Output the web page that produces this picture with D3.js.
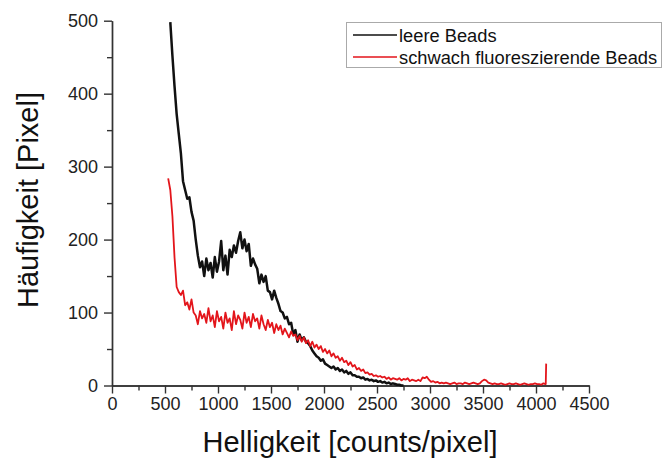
<!DOCTYPE html>
<html>
<head>
<meta charset="utf-8">
<script src="https://cdn.jsdelivr.net/npm/d3@7"></script>
<style>
body { margin: 0; background: #fff; }
text { font-family: Arial, "Liberation Sans", sans-serif; }
</style>
</head>
<body>
<script>
const w = 663;
const h = 461;

// histogram bins: first bin center and bin width (counts/pixel)
const binStart = { leer: 550, schwach: 530 };
const binWidth = 20;

const leereBeads = [
  498, 452, 410, 372, 345, 318, 280, 268, 256, 258, 238, 226, 200, 178, 162, 170,
  150, 174, 158, 168, 148, 176, 156, 170, 198, 158, 178, 152, 186, 176, 192, 182,
  198, 210, 188, 200, 184, 194, 164, 174, 166, 160, 140, 152, 142, 150, 130, 128,
  118, 130, 120, 112, 102, 100, 92, 94, 84, 86, 70, 76, 60, 70, 62, 66,
  60, 58, 54, 48, 44, 40, 38, 34, 36, 30, 28, 26, 24, 26, 22, 24,
  20, 22, 18, 20, 16, 18, 14, 14, 12, 12, 10, 11, 8, 9, 7, 8,
  6, 7, 5, 6, 4, 5, 3, 4, 2, 3, 2, 1, 1, 0, 0
];

const schwachBeads = [
  284, 268, 232, 175, 135, 128, 124, 130, 110, 114, 104, 118, 100, 96, 84, 102,
  92, 98, 86, 106, 88, 96, 80, 102, 88, 94, 78, 100, 86, 92, 76, 102,
  84, 96, 90, 78, 100, 86, 94, 80, 98, 88, 92, 78, 96, 84, 76, 90,
  80, 86, 72, 84, 76, 82, 70, 78, 72, 66, 74, 68, 70, 62, 68, 60,
  66, 58, 62, 54, 60, 52, 56, 50, 54, 46, 50, 44, 48, 40, 44, 38,
  40, 34, 38, 32, 34, 28, 32, 26, 28, 22, 24, 20, 22, 17, 18, 15,
  16, 13, 14, 12, 13, 11, 12, 9, 11, 8, 10, 9, 8, 10, 7, 9,
  8, 10, 6, 8, 7, 6, 8, 6, 11, 10, 12, 8, 5, 6, 4, 5,
  3, 4, 3, 4, 3, 2, 3, 4, 2, 3, 3, 2, 4, 3, 2, 3,
  4, 3, 2, 3, 6, 8, 7, 4, 3, 2, 3, 2, 2, 3, 2, 1,
  2, 3, 2, 2, 3, 2, 1, 2, 3, 2, 1, 2, 2, 3, 2, 2,
  1, 3, 2
];
// last channel (4095) overflow spike
const schwachSpike = [[4092, 2], [4096, 30]];

const xTicks = [0, 500, 1000, 1500, 2000, 2500, 3000, 3500, 4000, 4500];
const xMinor = [250, 750, 1250, 1750, 2250, 2750, 3250, 3750, 4250];
const yTicks = [0, 100, 200, 300, 400, 500];
const yMinor = [50, 150, 250, 350, 450];

const seriesNames = ['leere Beads', 'schwach fluoreszierende Beads'];
const colors = ['#111111', '#e3151b'];

const svg = d3.select('body').append('svg').attr('width', w).attr('height', h);

const x = d3.scaleLinear().domain([0, 4500]).range([112, 589]);
const y = d3.scaleLinear().domain([0, 500]).range([385.5, 20.7]);

const blackPts = leereBeads.map((v, i) => [binStart.leer + i * binWidth, v]);
const redPts = schwachBeads.map((v, i) => [binStart.schwach + i * binWidth, v]).concat(schwachSpike);

const line = d3.line().x(d => x(d[0])).y(d => y(d[1]));

// axes
function styleAxis(g) {
  g.select('.domain').attr('stroke', '#333').attr('stroke-width', 1.4);
  g.selectAll('.tick line').attr('stroke', '#333').attr('stroke-width', 1.4);
  g.selectAll('.tick text').attr('fill', '#222').style('font-size', '18px')
    .style('font-family', 'Arial, "Liberation Sans", sans-serif');
}

svg.append('g').attr('transform', 'translate(0,' + y(0) + ')')
  .call(d3.axisBottom(x).tickValues(xMinor).tickSize(5).tickFormat('').tickSizeOuter(0))
  .call(styleAxis);
svg.append('g').attr('transform', 'translate(0,' + y(0) + ')')
  .call(d3.axisBottom(x).tickValues(xTicks).tickSize(8).tickPadding(4).tickFormat(d3.format('d')).tickSizeOuter(0))
  .call(styleAxis);

svg.append('g').attr('transform', 'translate(' + x(0) + ',0)')
  .call(d3.axisLeft(y).tickValues(yMinor).tickSize(5).tickFormat('').tickSizeOuter(0))
  .call(styleAxis);
svg.append('g').attr('transform', 'translate(' + x(0) + ',0)')
  .call(d3.axisLeft(y).tickValues(yTicks).tickSize(8).tickPadding(6).tickFormat(d3.format('d')).tickSizeOuter(0))
  .call(styleAxis);

// curves
svg.append('path').datum(blackPts).attr('d', line)
  .attr('fill', 'none').attr('stroke', colors[0]).attr('stroke-width', 2.5).attr('stroke-linejoin', 'round');
svg.append('path').datum(redPts).attr('d', line)
  .attr('fill', 'none').attr('stroke', colors[1]).attr('stroke-width', 1.8).attr('stroke-linejoin', 'round');

// axis titles
svg.append('text').attr('x', 350).attr('y', 452).attr('text-anchor', 'middle')
  .style('font-size', '29px').attr('fill', '#111').text('Helligkeit [counts/pixel]');
svg.append('text').attr('transform', 'translate(38,200) rotate(-90)').attr('text-anchor', 'middle')
  .style('font-size', '29px').attr('fill', '#111').text('Häufigkeit [Pixel]');

// legend
const lg = svg.append('g');
lg.append('rect').attr('x', 346.5).attr('y', 22.5).attr('width', 315).attr('height', 45)
  .attr('fill', '#fff').attr('stroke', '#aaa').attr('stroke-width', 1);
seriesNames.forEach((name, i) => {
  const ly = 35 + i * 22;
  lg.append('line').attr('x1', 353).attr('x2', 397).attr('y1', ly).attr('y2', ly)
    .attr('stroke', colors[i]).attr('stroke-width', 1.5);
  lg.append('text').attr('x', 399).attr('y', ly + 6.5).style('font-size', '18.3px')
    .attr('fill', '#111').text(name);
});
</script>
</body>
</html>
